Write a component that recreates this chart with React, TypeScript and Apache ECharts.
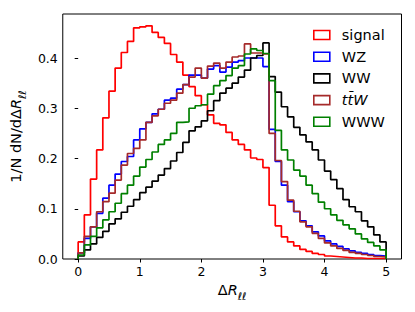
import React, { useEffect, useRef } from "react";
import * as echarts from "echarts";

// Bin edges of the ΔR_ll histograms (50 bins from 0 to 5)
const binEdges = [
  0.0, 0.1, 0.2, 0.3, 0.4, 0.5, 0.6, 0.7, 0.8, 0.9,
  1.0, 1.1, 1.2, 1.3, 1.4, 1.5, 1.6, 1.7, 1.8, 1.9,
  2.0, 2.1, 2.2, 2.3, 2.4, 2.5, 2.6, 2.7, 2.8, 2.9,
  3.0, 3.1, 3.2, 3.3, 3.4, 3.5, 3.6, 3.7, 3.8, 3.9,
  4.0, 4.1, 4.2, 4.3, 4.4, 4.5, 4.6, 4.7, 4.8, 4.9, 5.0,
];

const seriesNames = ["signal", "WZ", "WW", "ttW", "WWW"];

const signal = [
  0.034, 0.088, 0.159, 0.217, 0.281, 0.334, 0.380, 0.411, 0.433, 0.460,
  0.462, 0.464, 0.451, 0.441, 0.429, 0.407, 0.392, 0.366, 0.343, 0.325,
  0.307, 0.287, 0.270, 0.267, 0.252, 0.237, 0.228, 0.217, 0.201, 0.198,
  0.182, 0.107, 0.066, 0.044, 0.034, 0.026, 0.019, 0.015, 0.011, 0.009,
  0.006, 0.005, 0.004, 0.003, 0.002, 0.002, 0.001, 0.001, 0.001, 0.001,
];

const wz = [
  0.012, 0.041, 0.064, 0.091, 0.121, 0.147, 0.169, 0.194, 0.204, 0.237,
  0.259, 0.272, 0.289, 0.298, 0.316, 0.320, 0.338, 0.347, 0.366, 0.366,
  0.360, 0.378, 0.385, 0.372, 0.382, 0.392, 0.395, 0.400, 0.400, 0.400,
  0.383, 0.258, 0.194, 0.147, 0.114, 0.094, 0.076, 0.066, 0.054, 0.046,
  0.036, 0.030, 0.025, 0.020, 0.016, 0.013, 0.011, 0.009, 0.007, 0.006,
];

const ww = [
  0.006, 0.018, 0.030, 0.043, 0.055, 0.070, 0.080, 0.093, 0.105, 0.118,
  0.132, 0.143, 0.155, 0.167, 0.180, 0.195, 0.212, 0.232, 0.255, 0.263,
  0.275, 0.295, 0.315, 0.330, 0.340, 0.350, 0.362, 0.376, 0.400, 0.405,
  0.430, 0.363, 0.332, 0.303, 0.283, 0.262, 0.247, 0.233, 0.217, 0.197,
  0.175, 0.158, 0.140, 0.118, 0.104, 0.094, 0.076, 0.064, 0.048, 0.034,
];

const ttw = [
  0.012, 0.045, 0.064, 0.094, 0.114, 0.131, 0.157, 0.187, 0.210, 0.220,
  0.237, 0.272, 0.285, 0.298, 0.310, 0.316, 0.330, 0.347, 0.362, 0.380,
  0.360, 0.384, 0.390, 0.380, 0.392, 0.402, 0.404, 0.428, 0.410, 0.410,
  0.408, 0.250, 0.196, 0.154, 0.117, 0.095, 0.074, 0.064, 0.051, 0.041,
  0.032, 0.026, 0.021, 0.017, 0.013, 0.011, 0.009, 0.007, 0.005, 0.004,
];

const www = [
  0.008, 0.028, 0.045, 0.062, 0.078, 0.094, 0.111, 0.130, 0.147, 0.165,
  0.183, 0.198, 0.213, 0.228, 0.237, 0.250, 0.272, 0.273, 0.300, 0.305,
  0.307, 0.328, 0.345, 0.355, 0.365, 0.380, 0.385, 0.408, 0.418, 0.415,
  0.409, 0.355, 0.256, 0.217, 0.197, 0.177, 0.165, 0.147, 0.130, 0.113,
  0.100, 0.088, 0.077, 0.068, 0.060, 0.050, 0.040, 0.033, 0.026, 0.018,
];

const xTicks = [0, 1, 2, 3, 4, 5];
const yTicks = [0, 0.1, 0.2, 0.3, 0.4];

const seriesValues = [signal, wz, ww, ttw, www];
const colors = ["#ff0000", "#0000ff", "#000000", "#a52a2a", "#008000"];
const FONT = "DejaVu Sans";

function stepPoints(values: number[]): number[][] {
  const n = values.length;
  const pts: number[][] = [[binEdges[0], 0]];
  values.forEach((v, i) => pts.push([binEdges[i], v]));
  pts.push([binEdges[n], values[n - 1]]);
  pts.push([binEdges[n], 0]);
  return pts;
}

export default function App() {
  const ref = useRef<HTMLDivElement>(null);
  useEffect(() => {
    if (!ref.current) return;
    const chart = echarts.init(ref.current, undefined, { renderer: "svg" });
    const option: any = {
      animation: false,
      backgroundColor: "#ffffff",
      grid: {
        left: 60,
        right: 13.5,
        top: 14,
        bottom: 53,
        show: true,
        borderColor: "#000",
        borderWidth: 1,
        backgroundColor: "transparent",
      },
      xAxis: {
        type: "value",
        min: -0.25,
        max: 5.25,
        axisLine: { show: false },
        splitLine: { show: false },
        axisTick: {
          show: true,
          customValues: xTicks,
          length: 3.5,
          lineStyle: { color: "#000", width: 1 },
        },
        axisLabel: {
          customValues: xTicks,
          margin: 6,
          color: "#000",
          fontFamily: FONT,
          fontSize: 12.5,
          formatter: (v: number) => String(v),
        },
        name: "{d|Δ}{r|R}{s|ℓℓ}",
        nameLocation: "middle",
        nameGap: 23,
        nameTextStyle: {
          color: "#000",
          fontFamily: FONT,
          rich: {
            d: { fontFamily: FONT, fontSize: 14.5, color: "#000", lineHeight: 19, verticalAlign: "top" },
            r: { fontFamily: FONT, fontSize: 14.5, fontStyle: "italic", color: "#000", lineHeight: 19, verticalAlign: "top" },
            s: { fontFamily: FONT, fontSize: 10.5, fontStyle: "italic", color: "#000", lineHeight: 12, verticalAlign: "bottom" },
          },
        },
      },
      yAxis: {
        type: "value",
        min: 0,
        max: 0.4876,
        axisLine: { show: false },
        splitLine: { show: false },
        axisTick: {
          show: true,
          customValues: yTicks,
          length: 3.5,
          lineStyle: { color: "#000", width: 1 },
        },
        axisLabel: {
          customValues: yTicks,
          margin: 5,
          color: "#000",
          fontFamily: FONT,
          fontSize: 12.5,
          formatter: (v: number) => v.toFixed(1),
        },
        name: "{n|1/N dN/dΔ}{r|R}{s|ℓℓ}",
        nameLocation: "middle",
        nameRotate: 90,
        nameGap: 30,
        nameTextStyle: {
          color: "#000",
          fontFamily: FONT,
          rich: {
            n: { fontFamily: FONT, fontSize: 14.5, color: "#000", lineHeight: 19, verticalAlign: "top" },
            r: { fontFamily: FONT, fontSize: 14.5, fontStyle: "italic", color: "#000", lineHeight: 19, verticalAlign: "top" },
            s: { fontFamily: FONT, fontSize: 10.5, fontStyle: "italic", color: "#000", lineHeight: 12, verticalAlign: "bottom" },
          },
        },
      },
      legend: {
        orient: "vertical",
        left: 313,
        top: 26.5,
        padding: 0,
        itemWidth: 16,
        itemHeight: 9,
        itemGap: 4.7,
        icon: "rect",
        selectedMode: false,
        textStyle: {
          fontFamily: FONT,
          fontSize: 14.5,
          color: "#000",
          lineHeight: 17,
          padding: [0, 0, 0, 7],
          rich: {
            it: { fontFamily: FONT, fontSize: 14.5, fontStyle: "italic", color: "#000", lineHeight: 17 },
          },
        },
        formatter: (name: string) => (name === "ttW" ? "{it|tt\u0304W}" : name),
        data: seriesNames.map((n, i) => ({
          name: n,
          itemStyle: { color: "#ffffff", borderColor: colors[i], borderWidth: 1.6 },
        })),
      },
      series: seriesNames.map((n, i) => ({
        name: n,
        type: "line",
        step: "end",
        symbol: "none",
        data: stepPoints(seriesValues[i]),
        lineStyle: { color: colors[i], width: 1.7 },
        itemStyle: { color: colors[i] },
        emphasis: { disabled: true },
      })),
    };
    chart.setOption(option);
    return () => chart.dispose();
  }, []);
  return <div ref={ref} style={{ width: 415, height: 312, position: "absolute", left: 0, top: 0 }} />;
}
